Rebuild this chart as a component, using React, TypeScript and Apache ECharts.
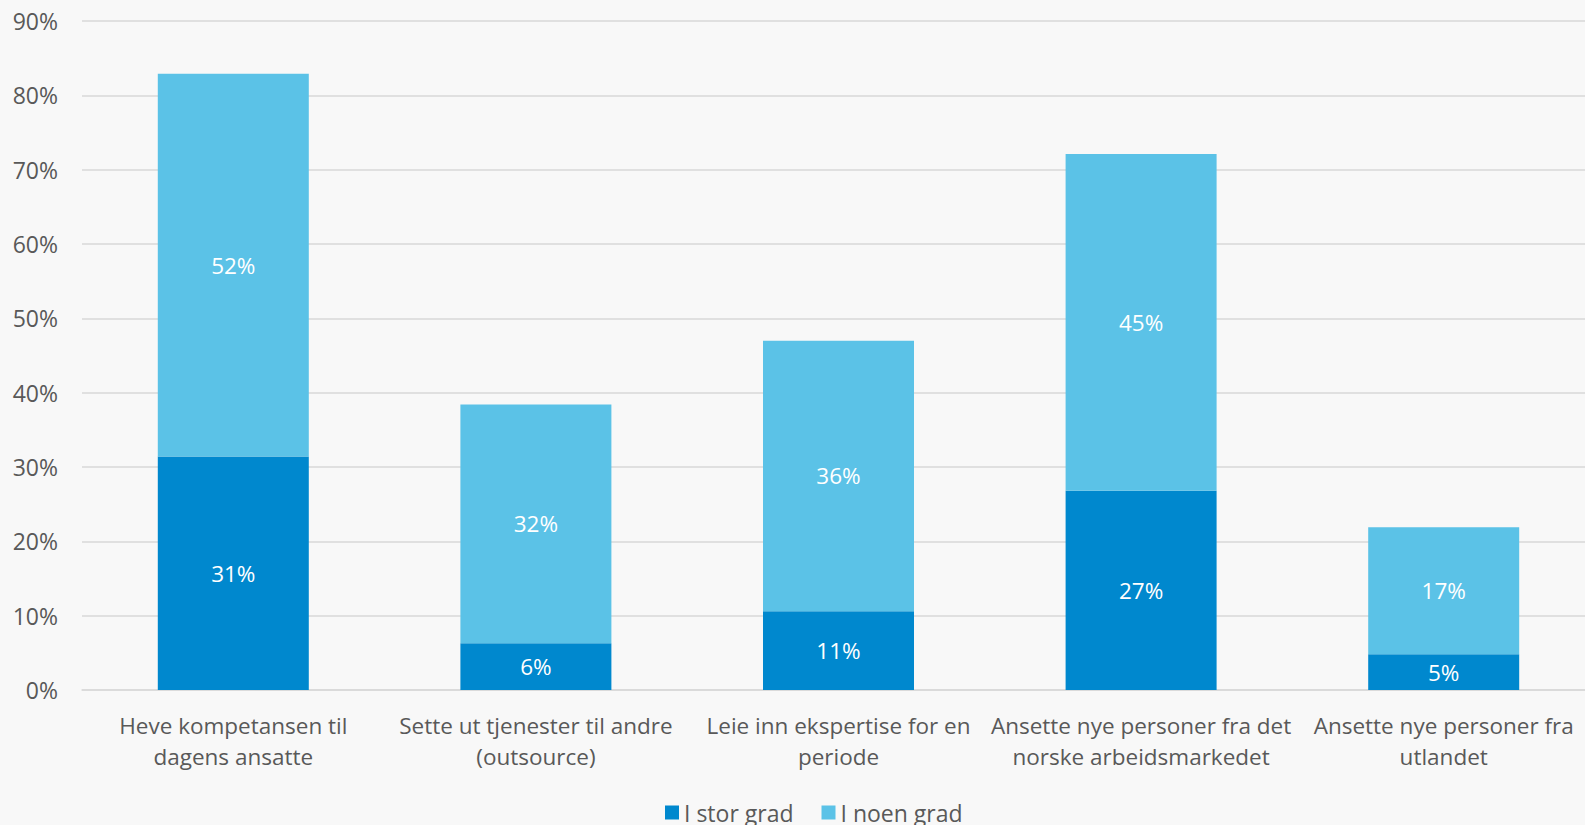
import React, { useEffect, useRef } from "react";
import * as echarts from "echarts";

const categories = [
  "Heve kompetansen til\ndagens ansatte",
  "Sette ut tjenester til andre\n(outsource)",
  "Leie inn ekspertise for en\nperiode",
  "Ansette nye personer fra det\nnorske arbeidsmarkedet",
  "Ansette nye personer fra\nutlandet",
];
const iStorGrad = [31.4, 6.3, 10.6, 26.8, 4.8];
const iNoenGrad = [51.5, 32.1, 36.4, 45.3, 17.1];
const seriesNames = ["I stor grad", "I noen grad"];
const yTicks = { min: 0, max: 90, interval: 10 };

const FONT = "'Segoe UI', 'Open Sans', 'Noto Sans', sans-serif";

export default function App() {
  const ref = useRef<HTMLDivElement>(null);
  useEffect(() => {
    document.body.style.margin = "0";
    const chart = echarts.init(ref.current!, null, { renderer: "svg" });
    const label = {
      show: true,
      position: "inside",
      color: "#ffffff",
      fontSize: 22.5,
      fontFamily: FONT,
      formatter: (p: any) => Math.round(p.value) + "%",
    };
    chart.setOption({
      animation: false,
      backgroundColor: "#f8f8f8",
      textStyle: { fontFamily: FONT },
      grid: {
        left: 82,
        top: 21,
        width: 1513,
        height: 669,
        containLabel: false,
        outerBoundsMode: "none",
      },
      legend: {
        left: 665,
        top: 801,
        padding: 0,
        itemWidth: 14,
        itemHeight: 14,
        itemGap: 28,
        icon: "rect",
        textStyle: { color: "#595959", fontSize: 23, fontFamily: FONT },
        data: seriesNames,
      },
      xAxis: {
        type: "category",
        data: categories,
        axisLine: { show: true, lineStyle: { color: "#d9d9d9", width: 1.5 } },
        axisTick: { show: false },
        axisLabel: {
          color: "#595959",
          fontSize: 22.5,
          fontFamily: FONT,
          margin: 20,
          lineHeight: 31,
          interval: 0,
        },
      },
      yAxis: {
        type: "value",
        min: yTicks.min,
        max: yTicks.max,
        interval: yTicks.interval,
        axisLine: { show: false },
        axisTick: { show: false },
        splitLine: { lineStyle: { color: "#d9d9d9", width: 1.5 } },
        axisLabel: {
          color: "#595959",
          fontSize: 23,
          fontFamily: FONT,
          margin: 24,
          formatter: "{value}%",
        },
      },
      series: [
        {
          name: seriesNames[0],
          type: "bar",
          stack: "total",
          barWidth: 151,
          data: iStorGrad,
          itemStyle: { color: "#0088ce" },
          label,
        },
        {
          name: seriesNames[1],
          type: "bar",
          stack: "total",
          barWidth: 151,
          data: iNoenGrad,
          itemStyle: { color: "#5bc2e7" },
          label,
        },
      ],
    });
    return () => chart.dispose();
  }, []);
  return <div ref={ref} style={{ width: 1585, height: 825 }} />;
}
